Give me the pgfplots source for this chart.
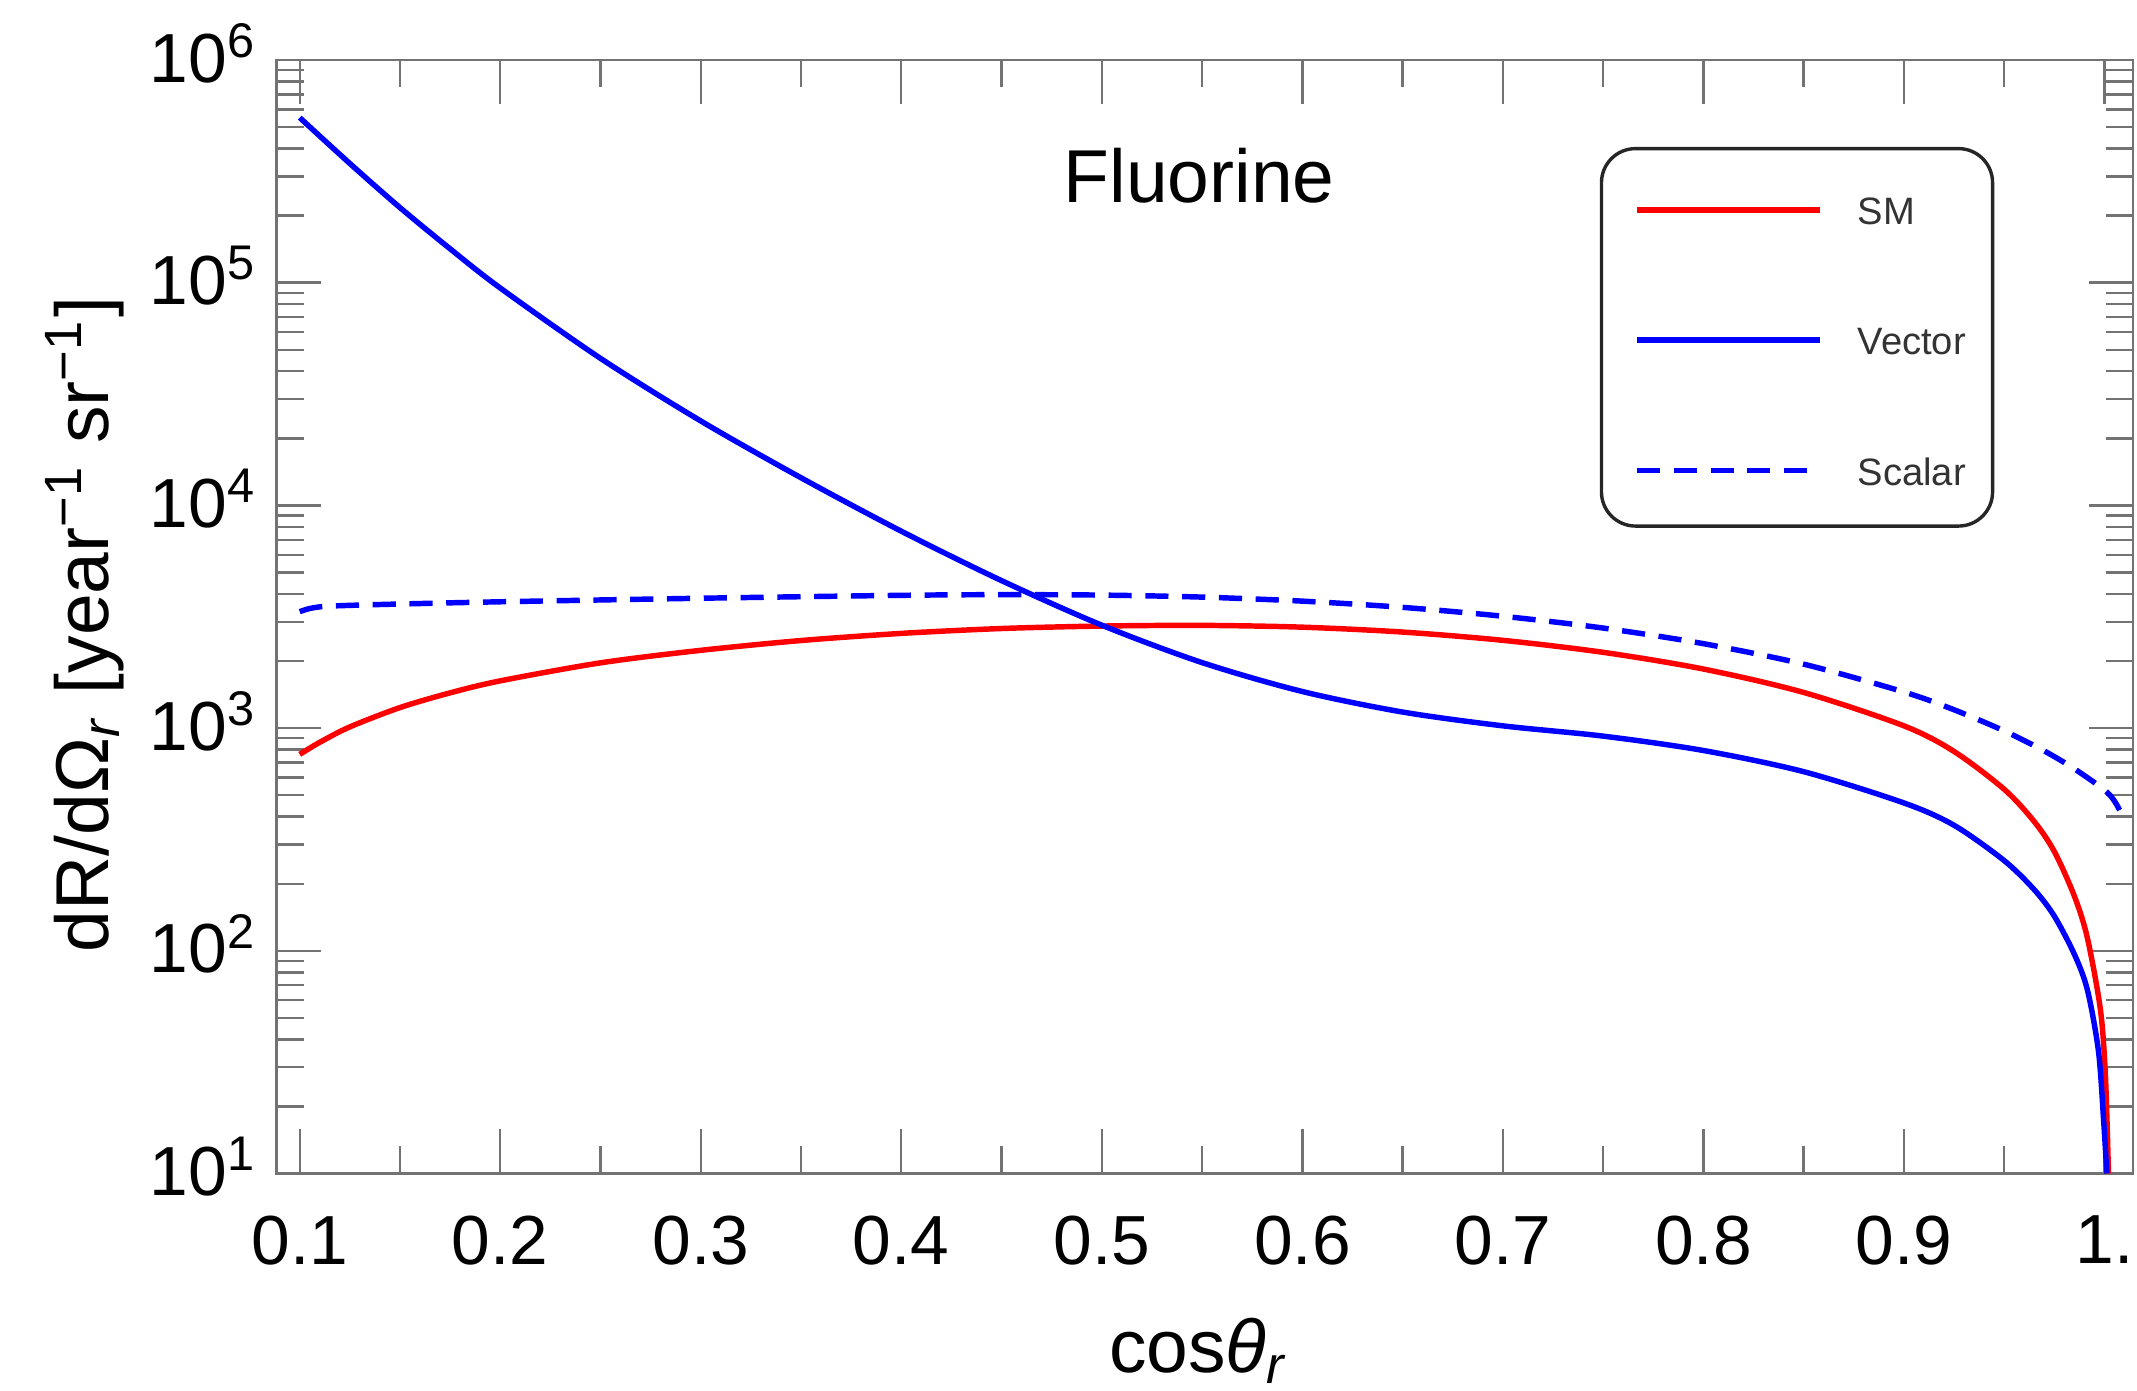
\documentclass[border=0pt]{standalone}
\usepackage{fontspec}
\setmainfont{Liberation Sans}
\usepackage{pgfplots}
\pgfplotsset{compat=1.18}

\definecolor{framegray}{gray}{0.45}

\begin{document}
\begin{tikzpicture}
\begin{axis}[
  at={(0pt,0pt)}, anchor=south west,
  scale only axis, width=272.4pt, height=163.4pt,
  xmin=0.0885, xmax=1.0142,
  ymode=log, ymin=10, ymax=1000000,
  axis line style={framegray, line width=0.4pt},
  every tick/.style={framegray, line width=0.35pt},
  major tick length=6.5pt, minor tick length=4pt,
  tick align=inside,
  xtick={0.1,0.2,0.3,0.4,0.5,0.6,0.7,0.8,0.9,1.0},
  xticklabels={0.1,0.2,0.3,0.4,0.5,0.6,0.7,0.8,0.9,1.},
  minor xtick={0.15,0.25,0.35,0.45,0.55,0.65,0.75,0.85,0.95},
  ytick={10,100,1000,10000,100000,1000000},
  yticklabels={10\textsuperscript{1},10\textsuperscript{2},10\textsuperscript{3},10\textsuperscript{4},10\textsuperscript{5},10\textsuperscript{6}},
  minor ytick={20,30,40,50,60,70,80,90,
    200,300,400,500,600,700,800,900,
    2000,3000,4000,5000,6000,7000,8000,9000,
    20000,30000,40000,50000,60000,70000,80000,90000,
    200000,300000,400000,500000,600000,700000,800000,900000},
  xticklabel style={font=\fontsize{10.2}{12}\selectfont, anchor=north, inner sep=0pt, yshift=-6pt},
  yticklabel style={font=\fontsize{10.2}{12}\selectfont, anchor=east, inner sep=0pt, xshift=-2.6pt, yshift=1pt},
  xlabel={cos\textit{θ}\textsubscript{\textit{r}}},
  ylabel={dR/dΩ\textsubscript{\textit{r}} [year\textsuperscript{−1} sr\textsuperscript{−1}]},
  xlabel style={font=\fontsize{11}{13}\selectfont, at={(axis description cs:0.497,-0.159)}, anchor=center},
  ylabel style={font=\fontsize{11}{13}\selectfont, at={(axis description cs:-0.1035,0.493)}, anchor=center},
  legend cell align=left,
  legend image code/.code={\draw[#1] (0pt,1pt) -- (26.8pt,1pt);},
  legend style={at={(rel axis cs:0.7137,0.9125)}, anchor=north west,
    draw=none, fill=none,
    font=\fontsize{5.6}{6.7}\selectfont, text=black!80,
    inner xsep=4.6pt, inner ysep=5.8pt, row sep=13.7pt,
    nodes={inner sep=0pt},
    /tikz/every odd column/.append style={column sep=5.2pt}},
]

% Standard Model rate
\addplot[red, line width=0.8pt, smooth] coordinates {
  (0.100,762) (0.110,863) (0.125,1012) (0.150,1236) (0.175,1439)
  (0.200,1629) (0.250,1963) (0.300,2234) (0.350,2472) (0.400,2661)
  (0.450,2799) (0.500,2871) (0.550,2891) (0.600,2838) (0.650,2698)
  (0.700,2477) (0.750,2188) (0.800,1841) (0.850,1445) (0.900,1023)
  (0.925,785) (0.950,531) (0.965,380) (0.975,279) (0.985,176)
  (0.9915,114) (0.998,54.3) (1.0005,27.2) (1.002,10)
};
\addlegendentry{SM}

% light vector mediator
\addplot[blue, line width=0.8pt, smooth] coordinates {
  (0.100,550800) (0.125,342800) (0.150,217300) (0.175,141900)
  (0.200,94620) (0.250,45710) (0.300,23930) (0.350,13300)
  (0.400,7656) (0.450,4592) (0.500,2897) (0.550,1968) (0.600,1459)
  (0.650,1180) (0.700,1023) (0.750,920) (0.800,793) (0.850,637)
  (0.900,461) (0.925,366) (0.950,254) (0.965,188) (0.975,143)
  (0.985,96.4) (0.9915,66.7) (0.997,35.5) (0.9995,17.8) (1.0012,10)
};
\addlegendentry{Vector}

% light scalar mediator
\addplot[blue, line width=0.8pt, dash pattern=on 3.4pt off 2pt, smooth] coordinates {
  (0.100,3334) (0.105,3443) (0.112,3516) (0.125,3556) (0.150,3606)
  (0.200,3690) (0.300,3828) (0.400,3945) (0.450,3972) (0.500,3954)
  (0.550,3873) (0.600,3715) (0.650,3483) (0.700,3177) (0.750,2812)
  (0.800,2393) (0.850,1936) (0.900,1452) (0.925,1208) (0.950,971)
  (0.970,789) (0.985,656) (1.000,527) (1.005,470) (1.0085,412)
};
\addlegendentry{Scalar}

% frame round the legend
\draw[black!85, line width=0.5pt, rounded corners=5pt]
  (rel axis cs:0.7137,0.5814) rectangle (rel axis cs:0.9244,0.9204);

\node[font=\fontsize{11}{13}\selectfont, anchor=center] at (axis description cs:0.497,0.896) {Fluorine};
\end{axis}
\pgfresetboundingbox
\useasboundingbox (-40.6pt,-31.8pt) rectangle (273.0pt,172.2pt);
\end{tikzpicture}
\end{document}
